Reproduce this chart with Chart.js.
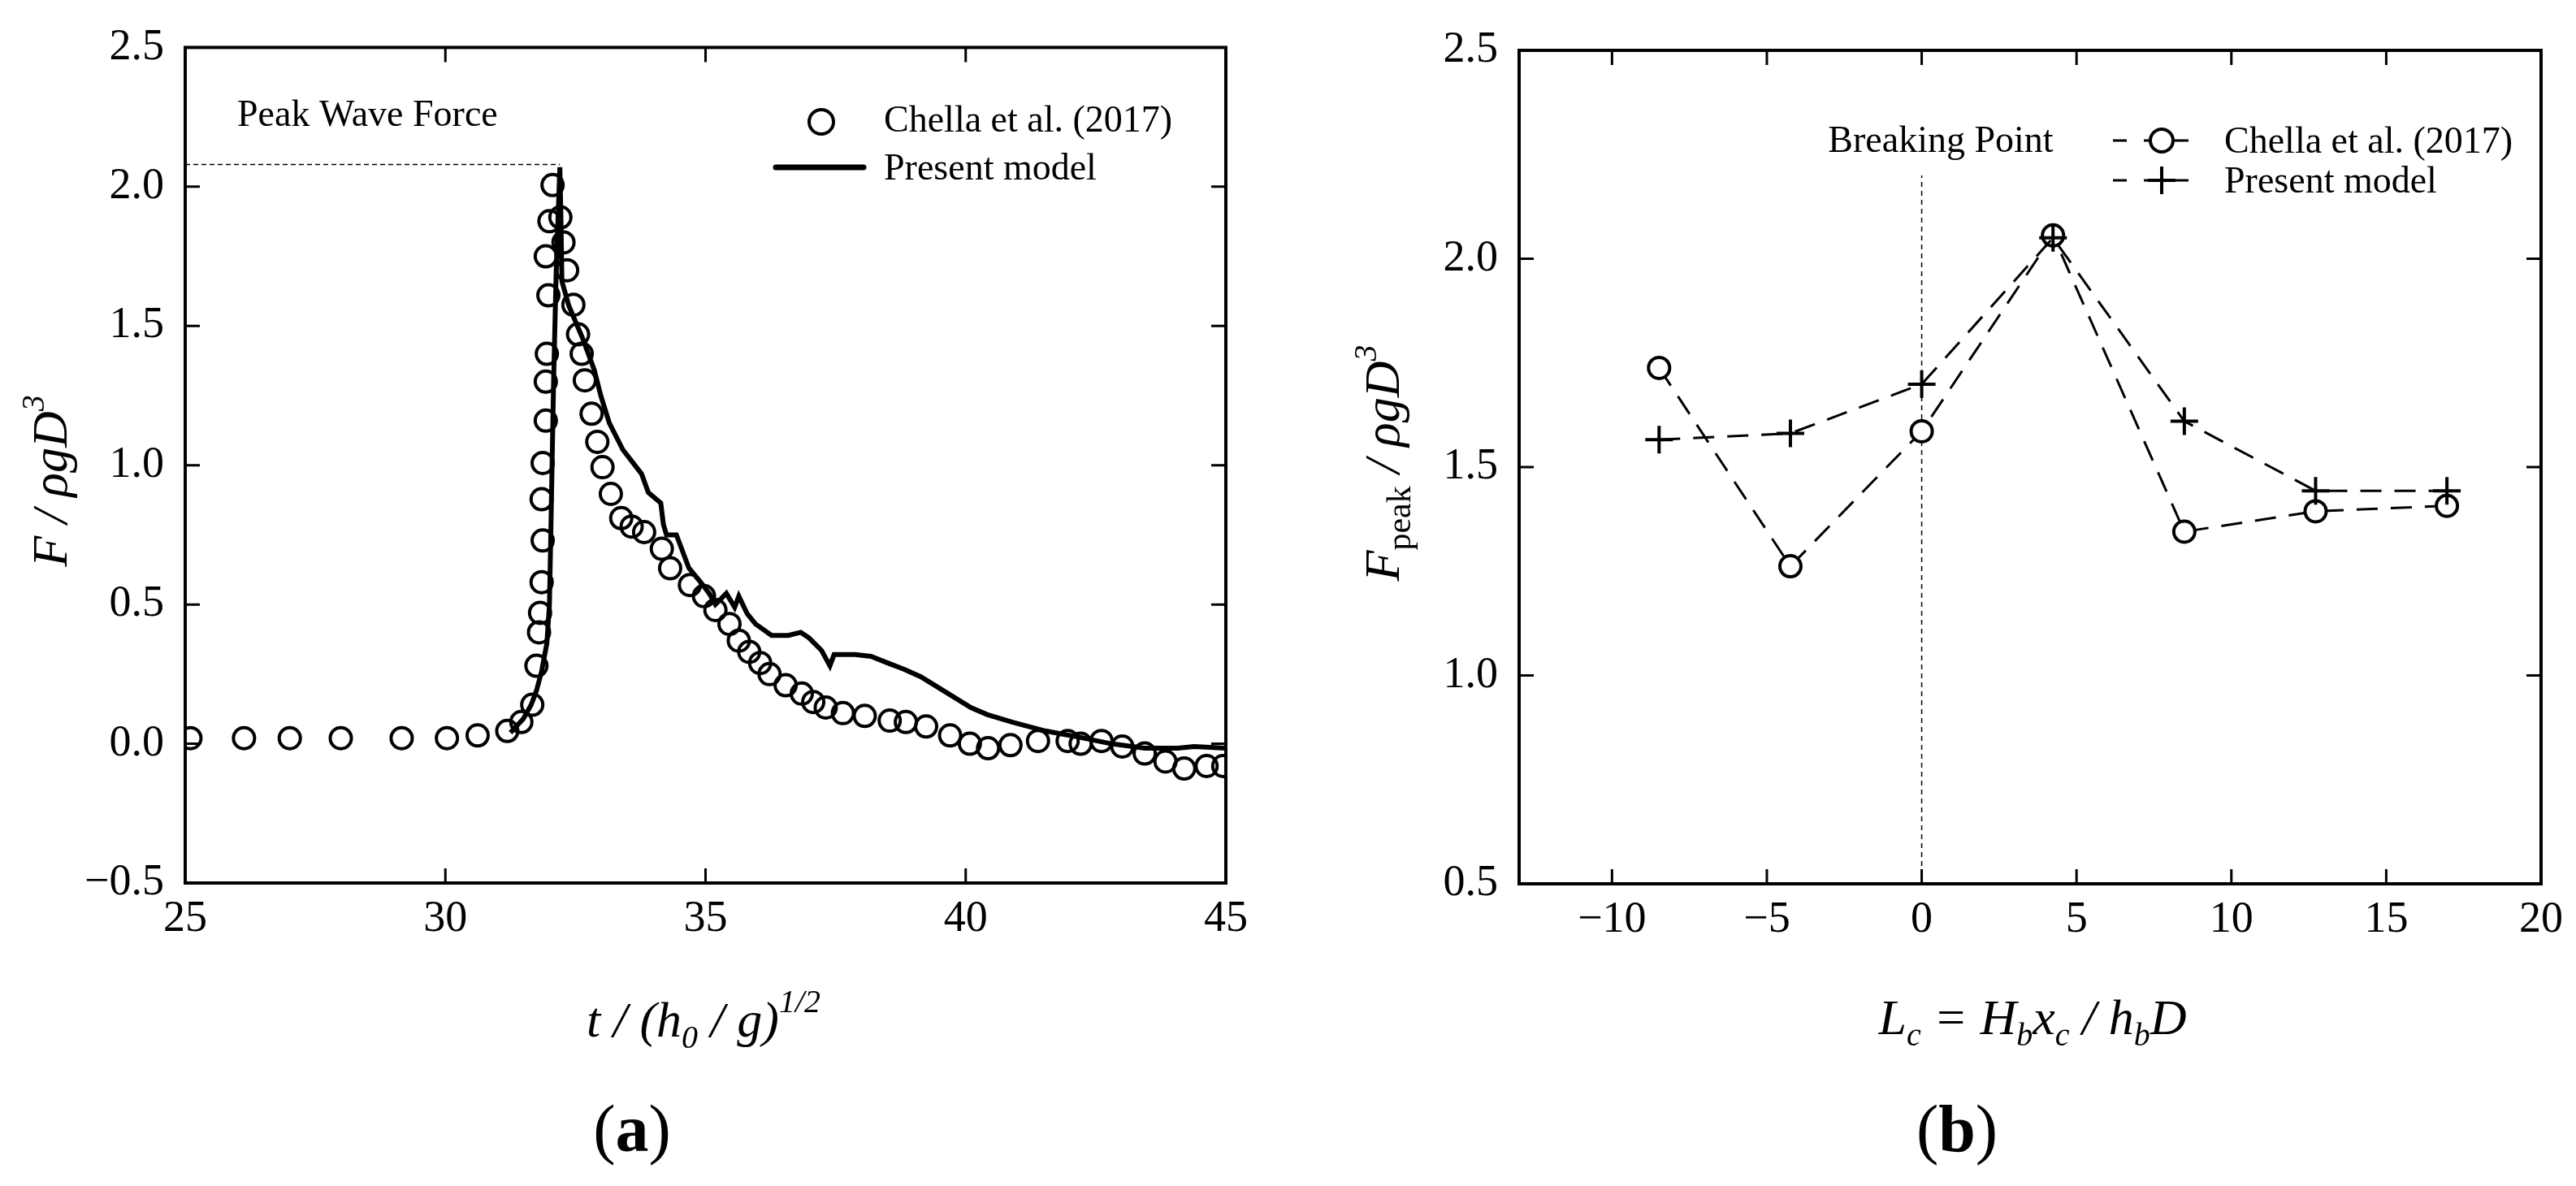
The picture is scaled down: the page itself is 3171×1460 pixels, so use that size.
<!DOCTYPE html>
<html>
<head>
<meta charset="utf-8">
<script src="https://cdn.jsdelivr.net/npm/chart.js@4.4.1/dist/chart.umd.min.js"></script>
<style>
  html, body { margin: 0; padding: 0; background: #fff; }
  #wrap { position: relative; width: 3171px; height: 1460px; }
  canvas { position: absolute; left: 0; top: 0; }
</style>
</head>
<body>
<div id="wrap">
  <canvas id="figA" width="3171" height="1460"></canvas>
  <canvas id="figB" width="3171" height="1460"></canvas>
</div>
<script>
// ---- (a) wave force time series ----
const tA_exp = [25.10, 26.13, 27.01, 27.99, 29.16, 30.03, 30.62, 31.19, 31.46, 31.67,
  31.75, 31.80, 31.82, 31.85, 31.87, 31.85, 31.87, 31.93, 31.93, 31.95,
  31.98, 31.93, 32.00, 32.06,
  32.21, 32.27, 32.34, 32.46, 32.55, 32.62, 32.68, 32.81, 32.92, 33.02,
  33.18, 33.38, 33.58, 33.82, 34.16, 34.32, 34.70, 34.97, 35.19, 35.46,
  35.64, 35.84, 36.05, 36.23, 36.54, 36.85, 37.07, 37.31, 37.64, 38.06,
  38.54, 38.85, 39.24, 39.70, 40.08, 40.43, 40.86, 41.39, 41.96, 42.21,
  42.61, 43.01, 43.44, 43.84, 44.20, 44.63, 44.95];
const fA_exp = [0.02, 0.02, 0.02, 0.02, 0.02, 0.02, 0.03, 0.046, 0.078, 0.14,
  0.28, 0.40, 0.47, 0.58, 0.73, 0.878, 1.008, 1.16, 1.30, 1.40,
  1.61, 1.75, 1.876, 2.006,
  1.89, 1.80, 1.70, 1.576, 1.47, 1.40, 1.305, 1.185, 1.084, 0.993,
  0.897, 0.81, 0.78, 0.76, 0.70, 0.63, 0.57, 0.53, 0.48, 0.43,
  0.37, 0.33, 0.29, 0.25, 0.21, 0.18, 0.15, 0.13, 0.11, 0.10,
  0.083, 0.078, 0.062, 0.03, 0.00, -0.016, -0.005, 0.01, 0.01, 0.00,
  0.01, -0.01, -0.035, -0.064, -0.089, -0.08, -0.08];

const tA_model = [31.25, 31.35, 31.5, 31.65, 31.75, 31.85, 31.95, 32.0, 32.03, 32.08,
  32.13, 32.2, 32.22, 32.24, 32.37, 32.63, 32.86, 32.99, 33.15, 33.41,
  33.77, 33.90, 34.14, 34.19, 34.25, 34.44, 34.68, 34.92, 35.08, 35.19,
  35.40, 35.56, 35.64, 35.80, 35.96, 36.27, 36.59, 36.83, 36.99, 37.23,
  37.39, 37.47, 37.87, 38.18, 38.50, 38.82, 39.14, 39.62, 40.10, 40.41,
  40.89, 41.53, 42.17, 42.80, 43.44, 44.08, 44.39, 45.0];
const fA_model = [0.04, 0.06, 0.09, 0.14, 0.19, 0.26, 0.36, 0.5, 0.79, 1.3,
  1.7, 2.07, 1.9, 1.66, 1.574, 1.459, 1.343, 1.248, 1.152, 1.056,
  0.969, 0.902, 0.864, 0.787, 0.75, 0.75, 0.631, 0.577, 0.537, 0.50,
  0.54, 0.49, 0.53, 0.467, 0.43, 0.389, 0.389, 0.40, 0.38, 0.335,
  0.28, 0.32, 0.32, 0.314, 0.29, 0.267, 0.24, 0.185, 0.13, 0.105,
  0.078, 0.046, 0.024, 0.00, -0.016, -0.016, -0.01, -0.016];

const peakT = [25, 32.2];
const peakF = [2.08, 2.08];

const xTicksA = [25, 30, 35, 40, 45];
const yTicksA = [-0.5, 0, 0.5, 1.0, 1.5, 2.0, 2.5];

// ---- (b) peak force vs. location ----
const lcB = [-8.48, -4.24, 0, 4.24, 8.48, 12.72, 16.96];
const chellaB = [1.738, 1.262, 1.586, 2.056, 1.345, 1.394, 1.407];
const modelB = [1.566, 1.581, 1.699, 2.050, 1.610, 1.443, 1.443];

const breakX = [0, 0];
const breakY = [0.5, 2.2];

const xTicksB = [-10, -5, 0, 5, 10, 15, 20];
const yTicksB = [0.5, 1.0, 1.5, 2.0, 2.5];

const SERIF = '"Liberation Serif", "Times New Roman", serif';

const pts = (xs, ys) => xs.map((x, i) => ({ x: x, y: ys[i] }));
const fmtX = v => (v < 0 ? '\u2212' : '') + Math.abs(v);
const fmtY = v => (v < 0 ? '\u2212' : '') + Math.abs(v).toFixed(1);

function axis(min, max, tickList, fixed, fmt, pad) {
  return {
    type: 'linear', min: min, max: max,
    grid: { display: false, drawTicks: false },
    border: { display: false },
    ticks: { font: { family: SERIF, size: 54 }, color: '#000', padding: pad,
             maxRotation: 0, autoSkip: false, callback: fmt },
    afterBuildTicks: s => { s.ticks = tickList.map(v => ({ value: v })); },
    afterFit: s => { if (s.isHorizontal()) s.height = fixed; else s.width = fixed; }
  };
}

function rich(ctx, parts, x, y, align) {
  let w = 0;
  parts.forEach(p => { ctx.font = p[2] + ' ' + p[1] + 'px ' + SERIF; w += ctx.measureText(p[0]).width; });
  let cx = align === 'center' ? x - w / 2 : x;
  parts.forEach(p => {
    ctx.font = p[2] + ' ' + p[1] + 'px ' + SERIF;
    ctx.fillText(p[0], cx, y + p[3]);
    cx += ctx.measureText(p[0]).width;
  });
}

// box round the plot with inward ticks on all four sides
const framePlugin = {
  id: 'frame',
  afterDraw(chart) {
    const { ctx, chartArea: a } = chart;
    const x = chart.scales.x, y = chart.scales.y;
    ctx.save();
    ctx.strokeStyle = '#000';
    ctx.lineWidth = 3;
    ctx.beginPath();
    x.ticks.forEach(t => {
      const px = x.getPixelForValue(t.value);
      ctx.moveTo(px, a.bottom); ctx.lineTo(px, a.bottom - 18);
      ctx.moveTo(px, a.top); ctx.lineTo(px, a.top + 18);
    });
    y.ticks.forEach(t => {
      const py = y.getPixelForValue(t.value);
      ctx.moveTo(a.left, py); ctx.lineTo(a.left + 18, py);
      ctx.moveTo(a.right, py); ctx.lineTo(a.right - 18, py);
    });
    ctx.stroke();
    ctx.lineWidth = 4;
    ctx.strokeRect(a.left, a.top, a.right - a.left, a.bottom - a.top);
    ctx.restore();
  }
};

const textA = {
  id: 'textA',
  afterDraw(chart) {
    const ctx = chart.ctx;
    ctx.save();
    ctx.fillStyle = '#000';
    ctx.textBaseline = 'alphabetic';
    ctx.save();
    ctx.translate(82, 592);
    ctx.rotate(-Math.PI / 2);
    rich(ctx, [['F / \u03C1gD', 62, 'italic', 0], ['3', 40, 'italic', -28]], 0, 0, 'center');
    ctx.restore();
    rich(ctx, [['t / (h', 62, 'italic', 0], ['0', 40, 'italic', 14], [' / g)', 62, 'italic', 0],
               ['1/2', 40, 'italic', -30]], 866, 1276, 'center');
    rich(ctx, [['(', 82, 'normal', 0], ['a', 82, 'bold', 0], [')', 82, 'normal', 0]], 778, 1417, 'center');
    rich(ctx, [['Peak Wave Force', 46, 'normal', 0]], 292, 155, 'left');
    // legend
    ctx.strokeStyle = '#000';
    ctx.lineWidth = 4;
    ctx.beginPath(); ctx.arc(1011, 150, 15, 0, Math.PI * 2); ctx.stroke();
    ctx.lineWidth = 7; ctx.lineCap = 'round';
    ctx.beginPath(); ctx.moveTo(955, 206); ctx.lineTo(1063, 206); ctx.stroke();
    rich(ctx, [['Chella et al. (2017)', 46, 'normal', 0]], 1088, 162, 'left');
    rich(ctx, [['Present model', 46, 'normal', 0]], 1088, 221, 'left');
    ctx.restore();
  }
};

const textB = {
  id: 'textB',
  afterDraw(chart) {
    const ctx = chart.ctx;
    ctx.save();
    ctx.fillStyle = '#000';
    ctx.save();
    ctx.translate(1722, 570);
    ctx.rotate(-Math.PI / 2);
    rich(ctx, [['F', 62, 'italic', 0], ['peak', 42, 'normal', 14], [' / \u03C1gD', 62, 'italic', 0],
               ['3', 40, 'italic', -28]], 0, 0, 'center');
    ctx.restore();
    rich(ctx, [['L', 62, 'italic', 0], ['c', 40, 'italic', 14], [' = H', 62, 'italic', 0], ['b', 40, 'italic', 14],
               ['x', 62, 'italic', 0], ['c', 40, 'italic', 14], [' / h', 62, 'italic', 0], ['b', 40, 'italic', 14],
               ['D', 62, 'italic', 0]], 2502, 1273, 'center');
    rich(ctx, [['(', 82, 'normal', 0], ['b', 82, 'bold', 0], [')', 82, 'normal', 0]], 2409, 1417, 'center');
    rich(ctx, [['Breaking Point', 46, 'normal', 0]], 2389, 187, 'center');
    // legend
    ctx.strokeStyle = '#000';
    ctx.lineWidth = 3;
    ctx.setLineDash([17, 21]);
    ctx.beginPath();
    ctx.moveTo(2601, 173); ctx.lineTo(2715, 173);
    ctx.moveTo(2601, 222); ctx.lineTo(2715, 222);
    ctx.stroke();
    ctx.setLineDash([]);
    ctx.lineWidth = 4;
    ctx.fillStyle = '#fff';
    ctx.beginPath(); ctx.arc(2661, 173, 14, 0, Math.PI * 2); ctx.fill(); ctx.stroke();
    ctx.beginPath();
    ctx.moveTo(2644, 222); ctx.lineTo(2678, 222);
    ctx.moveTo(2661, 205); ctx.lineTo(2661, 239);
    ctx.stroke();
    ctx.fillStyle = '#000';
    rich(ctx, [['Chella et al. (2017)', 46, 'normal', 0]], 2738, 188, 'left');
    rich(ctx, [['Present model', 46, 'normal', 0]], 2738, 237, 'left');
    ctx.restore();
  }
};

const common = {
  responsive: false,
  animation: false,
  devicePixelRatio: 1,
  events: [],
  plugins: { legend: { display: false }, tooltip: { enabled: false } }
};

new Chart(document.getElementById('figA'), {
  type: 'scatter',
  data: {
    datasets: [
      { label: 'Present model', data: pts(tA_model, fA_model), showLine: true, pointRadius: 0,
        borderColor: '#000', borderWidth: 6, tension: 0, order: 0 },
      { label: 'Chella et al. (2017)', data: pts(tA_exp, fA_exp), showLine: false, pointStyle: 'circle',
        pointRadius: 13, pointBorderWidth: 4, pointBorderColor: '#000',
        pointBackgroundColor: 'rgba(0,0,0,0)', order: 1 },
      { label: 'Peak', data: pts(peakT, peakF), showLine: true, pointRadius: 0,
        borderColor: '#000', borderWidth: 1.5, borderDash: [6, 4], order: 2 }
    ]
  },
  options: Object.assign({}, common, {
    layout: { padding: { left: 0, top: 45, right: 3171 - 1509, bottom: 0 } },
    scales: {
      x: axis(25, 45, xTicksA, 1460 - 1087, fmtX, 12),
      y: axis(-0.5, 2.5, yTicksA, 228, fmtY, 26)
    }
  }),
  plugins: [framePlugin, textA]
});

new Chart(document.getElementById('figB'), {
  type: 'scatter',
  data: {
    datasets: [
      { label: 'Present model', data: pts(lcB, modelB), showLine: true, borderDash: [26, 16],
        borderColor: '#000', borderWidth: 3, pointStyle: 'cross', pointRadius: 17,
        pointBorderWidth: 4, pointBorderColor: '#000', order: 0 },
      { label: 'Chella et al. (2017)', data: pts(lcB, chellaB), showLine: true, borderDash: [26, 16],
        borderColor: '#000', borderWidth: 3, pointStyle: 'circle', pointRadius: 13,
        pointBorderWidth: 4, pointBorderColor: '#000', pointBackgroundColor: '#fff', order: 1 },
      { label: 'Breaking Point', data: pts(breakX, breakY), showLine: true, pointRadius: 0,
        borderColor: '#000', borderWidth: 1.5, borderDash: [6, 5], order: 2 }
    ]
  },
  options: Object.assign({}, common, {
    layout: { padding: { left: 1870 - 228, top: 62, right: 3171 - 3128, bottom: 0 } },
    scales: {
      x: axis(-13, 20, xTicksB, 1460 - 1088, fmtX, 12),
      y: axis(0.5, 2.5, yTicksB, 228, fmtY, 26)
    }
  }),
  plugins: [framePlugin, textB]
});
</script>
</body>
</html>
